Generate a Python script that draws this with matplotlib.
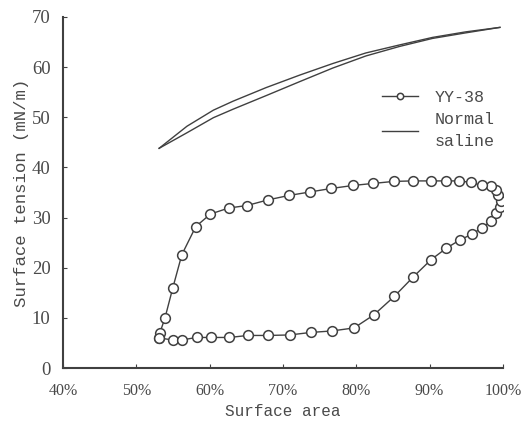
import numpy as np
import matplotlib
matplotlib.use("Agg")
import matplotlib.pyplot as plt

# YY-38 loop (surface area %, surface tension mN/m)
yy_area = [53.1, 54.95, 56.2, 58.2, 60.2, 62.7, 65.2, 68.0, 70.9, 73.8, 76.7, 79.7,
           82.4, 85.2, 87.8, 90.2, 92.3, 94.1, 95.8, 97.2, 98.4, 99.1, 99.6, 99.7,
           99.4, 99.0, 98.4, 97.1, 95.7, 94.0, 92.2, 90.2, 87.7, 85.1, 82.3, 79.6,
           76.6, 73.7, 70.8, 67.9, 65.1, 62.6, 60.1, 58.1, 56.2, 54.95, 53.9, 53.2, 53.1]
yy_tension = [6.0, 5.6, 5.6, 6.1, 6.1, 6.1, 6.5, 6.5, 6.6, 7.1, 7.4, 8.0,
              10.6, 14.3, 18.2, 21.6, 23.9, 25.5, 26.7, 28.0, 29.3, 30.9, 32.1, 33.3,
              34.4, 35.4, 36.2, 36.4, 37.0, 37.3, 37.3, 37.3, 37.3, 37.2, 36.8, 36.4,
              35.8, 35.1, 34.4, 33.5, 32.4, 31.9, 30.7, 28.2, 22.6, 15.9, 10.0, 7.0, 6.0]

# normal saline, upper and lower branches
ns_area = [53.1, 56.9, 60.5, 63.2, 67.7, 72.3, 76.8, 81.3, 85.9, 90.4, 94.9, 99.6]
ns_upper = [43.8, 48.2, 51.4, 53.2, 55.9, 58.4, 60.7, 62.8, 64.4, 65.9, 67.0, 67.9]
ns_lower = [43.8, 46.9, 49.9, 51.6, 54.3, 57.1, 59.8, 62.2, 64.1, 65.7, 66.8, 67.9]

xticks = [40, 50, 60, 70, 80, 90, 100]
yticks = [0, 10, 20, 30, 40, 50, 60, 70]

col = "#404040"
txt = "#4a4a4a"
mono = "Liberation Mono"
serif = "Liberation Serif"

fig = plt.figure(figsize=(5.26, 4.32), dpi=100)
ax = fig.add_axes([0.12, 0.148, 0.836, 0.813])

ax.plot(yy_area, yy_tension, "-o", color=col, lw=1.0, ms=7, mfc="white",
        mec=col, mew=1.1, label="YY-38")
ax.plot(ns_area, ns_upper, "-", color=col, lw=1.0, label="Normal\nsaline")
ax.plot(ns_area, ns_lower, "-", color=col, lw=1.0)

ax.set_xlim(40, 100)
ax.set_ylim(0, 70)
ax.set_xticks(xticks)
ax.set_xticklabels([f"{t}%" for t in xticks], fontfamily=serif, fontsize=11.5, color=txt)
ax.set_yticks(yticks)
ax.set_yticklabels([str(t) for t in yticks], fontfamily=serif, fontsize=13.5, color=txt)
ax.tick_params(direction="in", length=3, width=0.8, color=col)
ax.tick_params(axis="x", pad=11)
ax.tick_params(axis="y", pad=9)

for s in ["top", "right"]:
    ax.spines[s].set_visible(False)
for s in ["left", "bottom"]:
    ax.spines[s].set_color(col)
    ax.spines[s].set_linewidth(1.5)

ax.set_xlabel("Surface area", fontfamily=mono, fontsize=11.5, color=txt, labelpad=3)
ax.set_ylabel("Surface tension (mN/m)", fontfamily=mono, fontsize=12.5, color=txt, labelpad=2)

leg = ax.legend(loc="upper left", bbox_to_anchor=(0.69, 0.835), frameon=False,
                handlelength=2.2, handletextpad=1.0, labelspacing=0.45,
                prop={"family": mono, "size": 12}, markerscale=0.65)
for t in leg.get_texts():
    t.set_color(txt)
    t.set_linespacing(1.6)

fig.savefig("out.png", dpi=100)
